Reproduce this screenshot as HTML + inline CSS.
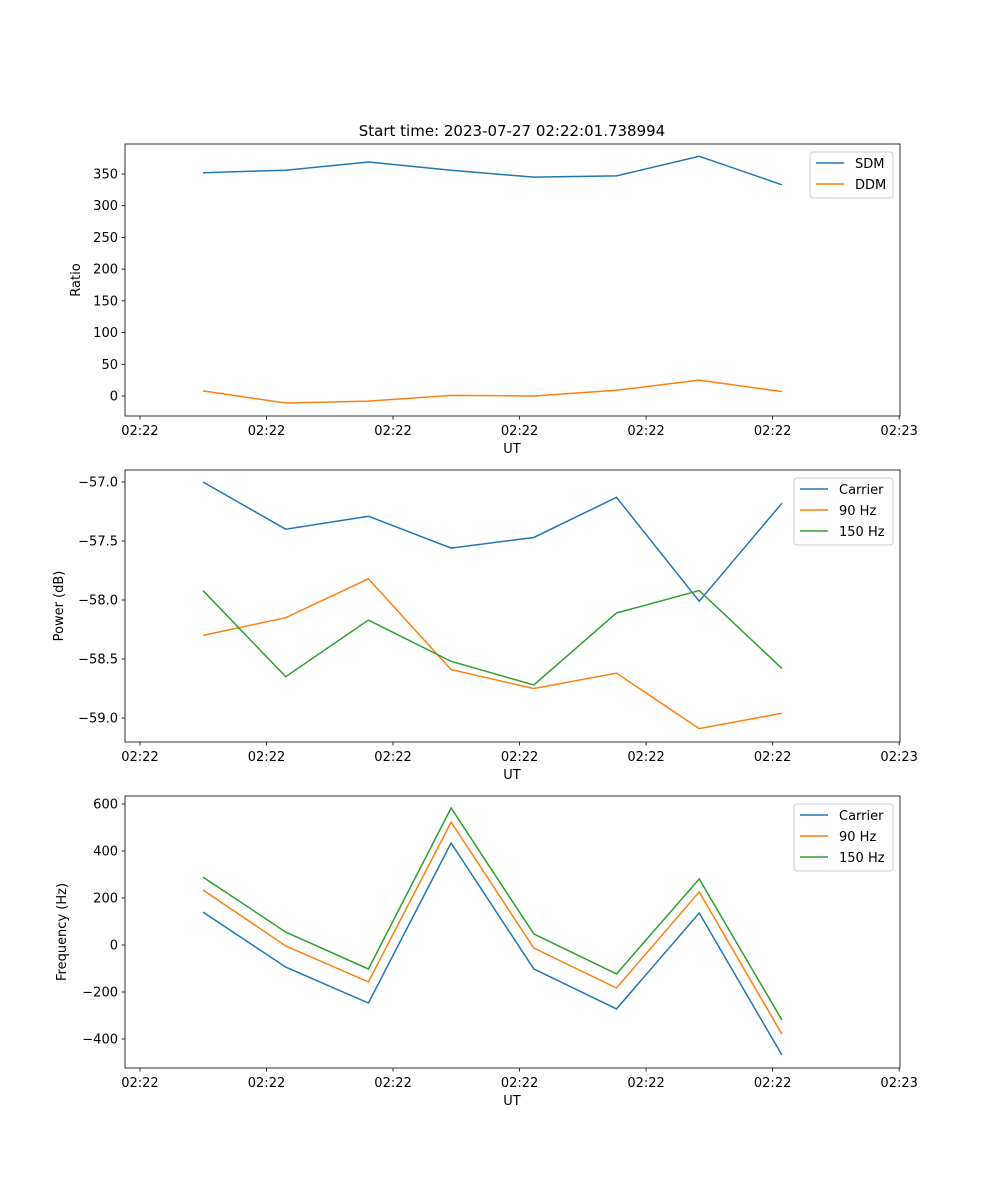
<!DOCTYPE html>
<html><head><meta charset="utf-8"><style>
html,body{margin:0;padding:0;background:#fff}
svg{display:block;font-family:"DejaVu Sans","Liberation Sans",sans-serif}
</style></head><body>
<svg id="chart" width="1000" height="1200" viewBox="0 0 1000 1200">
<text x="512" y="136" font-size="15" text-anchor="middle">Start time: 2023-07-27 02:22:01.738994</text>
</svg>
<script>
const timeLabels = ["02:22","02:22","02:22","02:22","02:22","02:22","02:23"];
const sdm = [352,356,369,356,345,347,378,333];
const ddm = [8,-11,-8,1,0,9,25,7];
const powCarrier = [-57.0,-57.40,-57.29,-57.56,-57.47,-57.13,-58.01,-57.18];
const pow90 = [-58.30,-58.15,-57.82,-58.59,-58.75,-58.62,-59.09,-58.96];
const pow150 = [-57.92,-58.65,-58.17,-58.52,-58.72,-58.11,-57.92,-58.58];
const freqCarrier = [140,-94,-247,434,-102,-272,136,-468];
const freq90 = [234,-4,-157,523,-13,-183,226,-379];
const freq150 = [289,55,-102,583,47,-123,281,-319];
const ticks1 = [0,50,100,150,200,250,300,350];
const ticks2 = [-59.0,-58.5,-58.0,-57.5,-57.0];
const ticks3 = [-400,-200,0,200,400,600];

const NS="http://www.w3.org/2000/svg";
const svg=document.getElementById('chart');
const L=125,R=900;
const xPix=i=>203+i*82.7;
const tickIdx=[-0.762,0.768,2.298,3.828,5.358,6.888,8.418];
function mk(tag,attrs,parent){const e=document.createElementNS(NS,tag);for(const k in attrs)e.setAttribute(k,attrs[k]);(parent||svg).appendChild(e);return e;}
function panel(top,bot,v0,p0,v1,p1,ticks,fmt,ylabel,series,legend,name){
  const g=mk('g',{});
  
  
  const y=v=>p0+(v-v0)*(p1-p0)/(v1-v0);
  series.forEach(s=>{
    const pl=mk('polyline',{points:s.d.map((v,i)=>xPix(i)+','+y(v)).join(' '),fill:'none',stroke:s.c,'stroke-width':1.5},g);
    
    
  });
  mk('rect',{x:L,y:top,width:R-L,height:bot-top,fill:'none',stroke:'#000','stroke-width':0.8},g);
  ticks.forEach(t=>{
    const yy=y(t);
    mk('line',{x1:L-3.5,x2:L,y1:yy,y2:yy,stroke:'#000','stroke-width':0.8},g);
    const tx=mk('text',{x:L-7,y:yy+4.5,'font-size':13,'text-anchor':'end'},g);
    tx.textContent=fmt(t);
    
    
  });
  tickIdx.forEach((ti,k)=>{
    const xx=xPix(ti);
    mk('line',{x1:xx,x2:xx,y1:bot,y2:bot+3.5,stroke:'#000','stroke-width':0.8},g);
    const tx=mk('text',{x:xx,y:bot+19,'font-size':13,'text-anchor':'middle'},g);
    tx.textContent=timeLabels[k];
    
    
  });
  const xl=mk('text',{x:512,y:bot+37,'font-size':13,'text-anchor':'middle'},g);
  xl.textContent='UT';
  
  
  const cy=(top+bot)/2;
  const yl=mk('text',{x:0,y:0,'font-size':13,'text-anchor':'middle',transform:`translate(${ylabel.x},${cy}) rotate(-90)`},g);
  yl.textContent=ylabel.t;
  
  
  const lg=mk('g',{},g);
  
  
  mk('rect',{x:legend.x,y:top+8,width:R-7-legend.x,height:series.length*21+4,rx:3,fill:'#fff',stroke:'#ccc','stroke-width':1,'fill-opacity':0.8},lg);
  series.forEach((s,i)=>{
    const ly=top+8+11+i*21;
    mk('line',{x1:legend.x+6,x2:legend.x+34,y1:ly,y2:ly,stroke:s.c,'stroke-width':1.5},lg);
    const t=mk('text',{x:legend.x+45,y:ly+5,'font-size':13},lg);
    t.textContent=s.label;
    
    
  });
}
const B='#1f77b4',O='#ff7f0e',G='#2ca02c';
const minus=s=>s.replace('-','\u2212');
panel(144,416,0,396,350,174,ticks1,t=>minus(String(t)),{x:80,t:'Ratio'},
  [{d:sdm,c:B,n:'sdm',label:'SDM'},{d:ddm,c:O,n:'ddm',label:'DDM'}],{x:810},'ratio-panel');
panel(470,742,-57.0,482,-59.0,718,ticks2,t=>minus(t.toFixed(1)),{x:63,t:'Power (dB)'},
  [{d:powCarrier,c:B,n:'power-carrier',label:'Carrier'},{d:pow90,c:O,n:'power-90hz',label:'90 Hz'},{d:pow150,c:G,n:'power-150hz',label:'150 Hz'}],{x:794},'power-panel');
panel(796,1068,0,945,600,804,ticks3,t=>minus(String(t)),{x:66,t:'Frequency (Hz)'},
  [{d:freqCarrier,c:B,n:'freq-carrier',label:'Carrier'},{d:freq90,c:O,n:'freq-90hz',label:'90 Hz'},{d:freq150,c:G,n:'freq-150hz',label:'150 Hz'}],{x:794},'frequency-panel');
</script>
</body></html>
